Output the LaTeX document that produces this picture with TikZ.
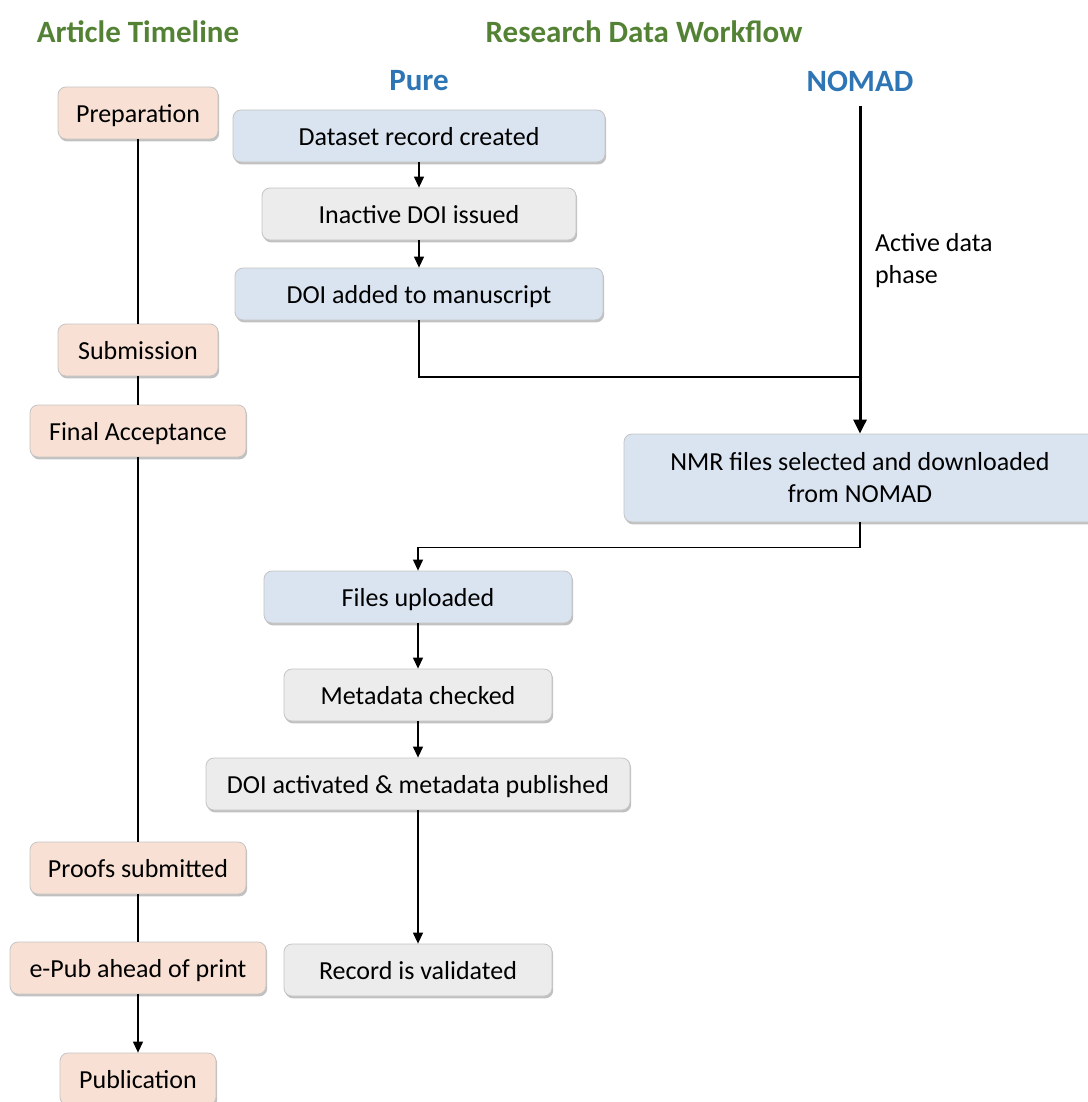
\documentclass[tikz,border=0pt]{standalone}
\usepackage{fontspec}
\setmainfont{Carlito}
\usetikzlibrary{arrows.meta,shadows,positioning}
\definecolor{headgreen}{HTML}{548235}
\definecolor{headblue}{HTML}{2E75B6}
\definecolor{peach}{HTML}{F8E1D4}
\definecolor{paleblue}{HTML}{DAE4F0}
\definecolor{palegrey}{HTML}{ECECEC}
\definecolor{boxline}{HTML}{C4C4C4}
\tikzset{
    boxbase/.style={draw=boxline, line width=0.4pt, rounded corners=4pt, minimum height=26pt,
        font=\fontsize{13}{16}\selectfont,
        drop shadow={shadow xshift=0.6pt, shadow yshift=-1.2pt, opacity=0.35, fill=black!70}},
    box/.style={boxbase, text height=11pt, text depth=2pt},
    timeline/.style={box, fill=peach},
    pure/.style={box, fill=paleblue},
    check/.style={box, fill=palegrey},
    head/.style={font=\fontsize{15.5}{18}\selectfont\bfseries},
    flow/.style={-{Triangle[length=5.5pt, width=5pt]}, line width=0.6pt},
    link/.style={line width=0.6pt},
    active/.style={-{Triangle[length=7pt, width=6.5pt]}, line width=1.5pt}
}

\begin{document}
\begin{tikzpicture}[x=0.5pt, y=-0.5pt]
            \useasboundingbox (0,0) rectangle (1087,1102);

            \node[head, text=headgreen] (arttitle) at (138,32) {Article Timeline};
            \node[head, text=headgreen] (rdwtitle) at (644,32) {Research Data Workflow};
            \node[head, text=headblue] (pure) at (419,81) {Pure};
            \node[head, text=headblue] (nomad) at (860,81) {NOMAD};

            \node[timeline, minimum width=80pt] (prep) at (138,113) {Preparation};
            \node[timeline, minimum width=80pt] (sub) at (138,350) {Submission};
            \node[timeline, minimum width=108pt] (fin) at (138,431) {Final Acceptance};
            \node[timeline, minimum width=108pt] (proof) at (138,868) {Proofs submitted};
            \node[timeline, minimum width=128pt] (epub) at (138,968) {e-Pub ahead of print};
            \node[timeline, minimum width=78pt] (publ) at (138,1079) {Publication};

            \node[pure, minimum width=186pt] (created) at (419,136) {Dataset record created};
            \node[check, minimum width=157pt] (inactive) at (419,214) {Inactive DOI issued};
            \node[pure, minimum width=184pt] (added) at (419,294) {DOI added to manuscript};
            \node[boxbase, fill=paleblue, minimum width=236pt, minimum height=44pt, align=center] (nmr) at (860,478)
                {NMR files selected and downloaded\\from NOMAD};
            \node[pure, minimum width=154pt] (files) at (418,597) {Files uploaded};
            \node[check, minimum width=134pt] (checked) at (418,695) {Metadata checked};
            \node[check, minimum width=212pt] (activated) at (418,784) {DOI activated \& metadata published};
            \node[check, minimum width=134pt] (valid) at (418,970) {Record is validated};

            \node[anchor=west, align=left, font=\fontsize{13}{16}\selectfont] (phase) at (868,261)
                {Active data\\phase};

            \coordinate (nomadtop) at (860,106);
            \coordinate (join) at (860,377);

            \draw[link] (prep) -- (sub);
            \draw[link] (sub) -- (fin);
            \draw[link] (fin) -- (proof);
            \draw[link] (proof) -- (epub);
            \draw[flow] (epub) -- (publ);

            \draw[flow] (created) -- (inactive);
            \draw[flow] (inactive) -- (added);
            \draw[link] (added) |- (join);
            \draw[active] (nomadtop) -- (nmr);
            \draw[flow] (nmr.south) -- ++(0,25) -| (files.north);
            \draw[flow] (files) -- (checked);
            \draw[flow] (checked) -- (activated);
            \draw[flow] (activated) -- (valid);
        \end{tikzpicture}
\end{document}
